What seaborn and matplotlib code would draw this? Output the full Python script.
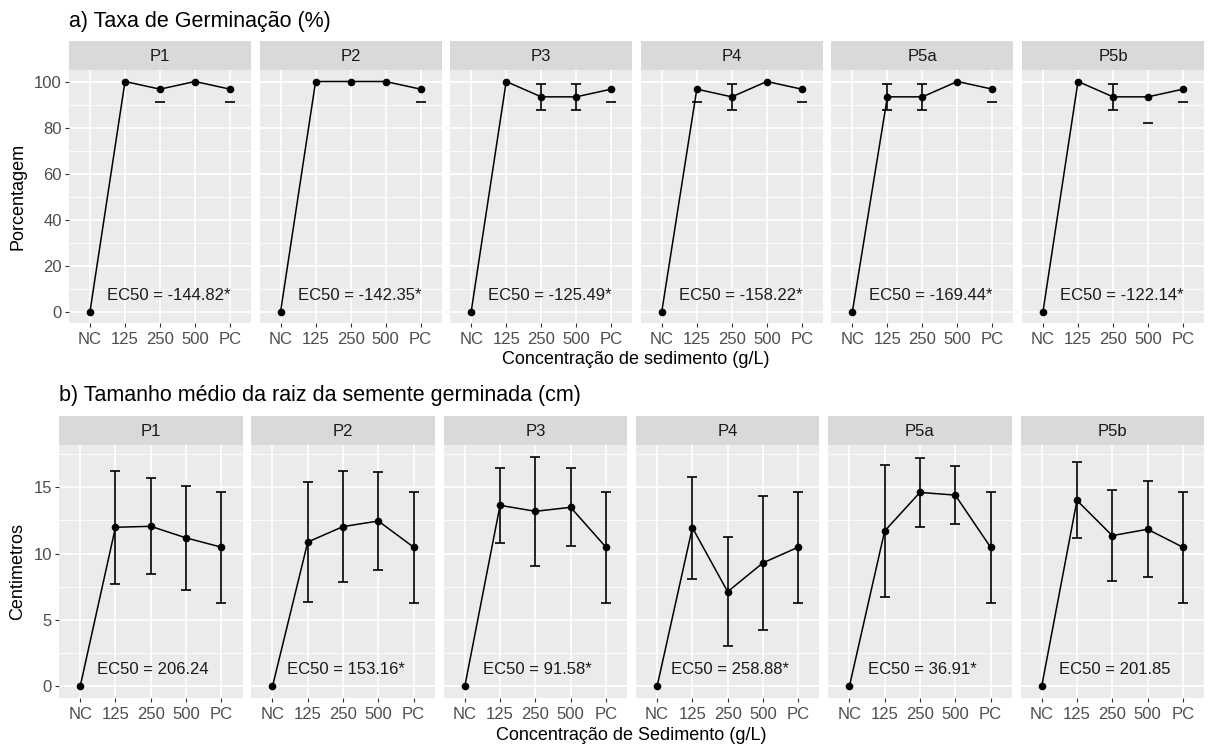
import numpy as np
import pandas as pd
import matplotlib
matplotlib.use("Agg")
import matplotlib.pyplot as plt
import seaborn as sns
from matplotlib.ticker import MultipleLocator

sns.set_style("darkgrid")
plt.rcParams["font.family"] = ["Liberation Sans", "DejaVu Sans"]

sites = ["P1", "P2", "P3", "P4", "P5a", "P5b"]
conc = ["NC", "125", "250", "500", "PC"]

# a) germination rate (%) - means and SD
germ_P1 = [0, 100, 96.67, 100, 96.67]
germ_P2 = [0, 100, 100, 100, 96.67]
germ_P3 = [0, 100, 93.33, 93.33, 96.67]
germ_P4 = [0, 96.67, 93.33, 100, 96.67]
germ_P5a = [0, 93.33, 93.33, 100, 96.67]
germ_P5b = [0, 100, 93.33, 93.33, 96.67]
germ_sd_P1 = [0, 0, 5.77, 0, 5.77]
germ_sd_P2 = [0, 0, 0, 0, 5.77]
germ_sd_P3 = [0, 0, 5.77, 5.77, 5.77]
germ_sd_P4 = [0, 5.77, 5.77, 0, 5.77]
germ_sd_P5a = [0, 5.77, 5.77, 0, 5.77]
germ_sd_P5b = [0, 0, 5.77, 11.55, 5.77]
ec50_germ = ["EC50 = -144.82*", "EC50 = -142.35*", "EC50 = -125.49*",
             "EC50 = -158.22*", "EC50 = -169.44*", "EC50 = -122.14*"]

# b) mean root length (cm) - means and SD
root_P1 = [0, 11.98, 12.05, 11.18, 10.48]
root_P2 = [0, 10.87, 12.03, 12.45, 10.48]
root_P3 = [0, 13.63, 13.18, 13.48, 10.48]
root_P4 = [0, 11.95, 7.13, 9.30, 10.48]
root_P5a = [0, 11.70, 14.60, 14.40, 10.48]
root_P5b = [0, 14.00, 11.35, 11.83, 10.48]
root_sd_P1 = [0, 4.26, 3.60, 3.94, 4.17]
root_sd_P2 = [0, 4.51, 4.18, 3.72, 4.17]
root_sd_P3 = [0, 2.81, 4.10, 2.94, 4.17]
root_sd_P4 = [0, 3.84, 4.09, 5.05, 4.17]
root_sd_P5a = [0, 4.97, 2.60, 2.18, 4.17]
root_sd_P5b = [0, 2.86, 3.45, 3.61, 4.17]
ec50_root = ["EC50 = 206.24", "EC50 = 153.16*", "EC50 = 91.58*",
             "EC50 = 258.88*", "EC50 = 36.91*", "EC50 = 201.85"]

germ_means = [germ_P1, germ_P2, germ_P3, germ_P4, germ_P5a, germ_P5b]
germ_sds = [germ_sd_P1, germ_sd_P2, germ_sd_P3, germ_sd_P4, germ_sd_P5a, germ_sd_P5b]
root_means = [root_P1, root_P2, root_P3, root_P4, root_P5a, root_P5b]
root_sds = [root_sd_P1, root_sd_P2, root_sd_P3, root_sd_P4, root_sd_P5a, root_sd_P5b]

W, H = 1208, 745
fig = plt.figure(figsize=(W / 100, H / 100), dpi=100)
fig.patch.set_facecolor("white")

PANEL_BG = "#EBEBEB"
STRIP_BG = "#D9D9D9"
TICK_C = "#4D4D4D"


def px_axes(left, top, width, height):
    return fig.add_axes([left / W, 1 - (top + height) / H, width / W, height / H])


def draw_panel(ax, means, sds, ylim, major, minor, cap_limit, label, text_x, text_y,
               show_y):
    x = np.arange(len(conc))
    df = pd.DataFrame({"x": x, "val": means})
    ax.set_facecolor(PANEL_BG)
    for i, (m, s) in enumerate(zip(means, sds)):
        if s <= 0:
            continue
        if cap_limit is not None and m + s > cap_limit + 0.01:
            ax.plot([i], [m - s], marker="_", ms=7, mew=1.2, color="black", zorder=3)
        else:
            ax.errorbar([i], [m], yerr=[s], fmt="none", ecolor="black",
                        elinewidth=1.2, capsize=3.5, capthick=1.2, zorder=3)
    sns.lineplot(data=df, x="x", y="val", ax=ax, color="black", lw=1.1,
                 marker="o", markersize=5.5, markeredgewidth=0, sort=False,
                 zorder=4, legend=False)
    ax.set_xlim(-0.6, len(conc) - 0.4)
    ax.set_ylim(*ylim)
    ax.set_xticks(x)
    ax.set_xticklabels(conc)
    ax.yaxis.set_major_locator(MultipleLocator(major))
    ax.yaxis.set_minor_locator(MultipleLocator(minor))
    ax.grid(which="major", color="white", lw=1.2)
    ax.grid(which="minor", axis="y", color="white", lw=0.6)
    ax.grid(which="minor", axis="x", visible=False)
    ax.set_axisbelow(True)
    for sp in ax.spines.values():
        sp.set_visible(False)
    ax.tick_params(axis="both", which="major", length=3.2, width=0.8, color="#333333",
                   labelsize=12, labelcolor=TICK_C, pad=3)
    ax.tick_params(axis="both", which="minor", length=0)
    ax.tick_params(axis="x", bottom=True)
    if show_y:
        ax.tick_params(axis="y", left=True, pad=2)
    else:
        ax.tick_params(axis="y", left=False, labelleft=False)
    ax.set_xlabel("")
    ax.set_ylabel("")
    ax.text(text_x, text_y, label, ha="center", va="center", fontsize=12,
            color="#1A1A1A")


def draw_strip(left, top, width, height, name):
    sax = px_axes(left, top, width, height)
    sax.set_facecolor(STRIP_BG)
    sax.set_xticks([])
    sax.set_yticks([])
    for sp in sax.spines.values():
        sp.set_visible(False)
    sax.text(0.5, 0.45, name, ha="center", va="center", fontsize=12,
             color="#1A1A1A", transform=sax.transAxes)


# ---- Panel a ----
top_left0, top_step, top_w = 69, 190.6, 182
top_strip_y, top_strip_h = 41, 29
top_panel_y, top_panel_h = 70, 253
for k, site in enumerate(sites):
    left = top_left0 + k * top_step
    draw_strip(left, top_strip_y, top_w, top_strip_h, site)
    ax = px_axes(left, top_panel_y, top_w, top_panel_h)
    draw_panel(ax, germ_means[k], germ_sds[k], (-5, 105), 20, 10, 100,
               ec50_germ[k], 2.25, 7, k == 0)

fig.text(69 / W, 1 - 21 / H, "a) Taxa de Germinação (%)", ha="left", va="center",
         fontsize=15.5, color="black")
fig.text(18 / W, 1 - 196.5 / H, "Porcentagem", rotation=90, ha="center", va="center",
         fontsize=13, color="black")
fig.text(636 / W, 1 - 359 / H, "Concentração de sedimento (g/L)", ha="center",
         va="center", fontsize=13, color="black")

# ---- Panel b ----
bot_left0, bot_step, bot_w = 59, 192.3, 183.5
bot_strip_y, bot_strip_h = 416, 29
bot_panel_y, bot_panel_h = 445, 253
for k, site in enumerate(sites):
    left = bot_left0 + k * bot_step
    draw_strip(left, bot_strip_y, bot_w, bot_strip_h, site)
    ax = px_axes(left, bot_panel_y, bot_w, bot_panel_h)
    draw_panel(ax, root_means[k], root_sds[k], (-0.87, 18.17), 5, 2.5, None,
               ec50_root[k], 2.07, 1.25, k == 0)

fig.text(59 / W, 1 - 396 / H, "b) Tamanho médio da raiz da semente germinada (cm)",
         ha="left", va="center", fontsize=15.5, color="black")
fig.text(18 / W, 1 - 571.5 / H, "Centimetros", rotation=90, ha="center", va="center",
         fontsize=13, color="black")
fig.text(631 / W, 1 - 735 / H, "Concentração de Sedimento (g/L)", ha="center",
         va="center", fontsize=13, color="black")

fig.savefig("out.png", dpi=100, facecolor="white")
